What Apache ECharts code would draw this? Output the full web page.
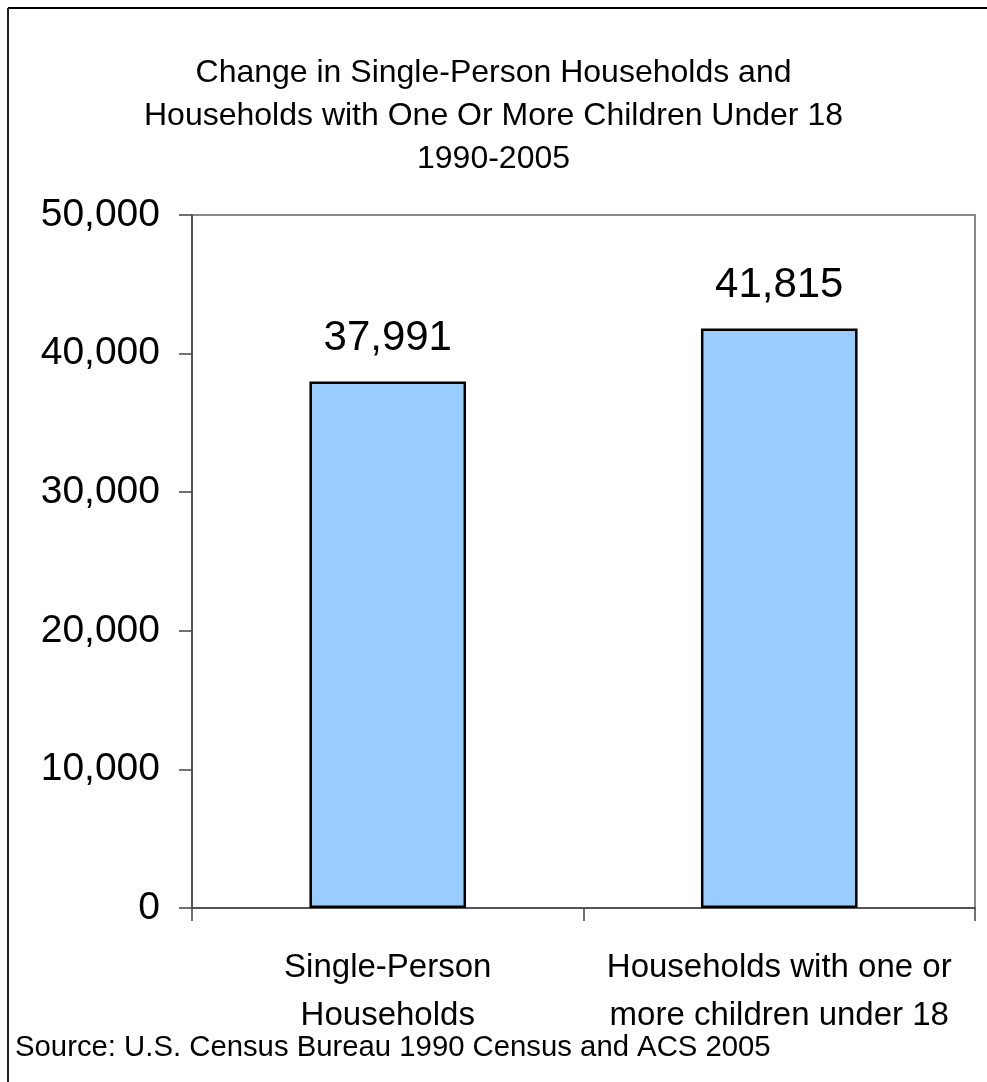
<!DOCTYPE html>
<html>
<head>
<meta charset="utf-8">
<script src="https://cdn.jsdelivr.net/npm/echarts@6/dist/echarts.min.js"></script>
<style>html,body{margin:0;padding:0;background:#fff}#c{width:987px;height:1082px}</style>
</head>
<body>
<div id="c"></div>
<script>
const categories = ['Single-Person\nHouseholds', 'Households with one or\nmore children under 18'];
const values = [37991, 41815];
const titleLines = 'Change in Single-Person Households and\nHouseholds with One Or More Children Under 18\n1990-2005';
const sourceText = 'Source: U.S. Census Bureau 1990 Census and ACS 2005';

const FONT = '"Liberation Sans", Arial, sans-serif';
const chart = echarts.init(document.getElementById('c'));
chart.setOption({
  animation: false,
  backgroundColor: '#fff',
  title: {
    text: titleLines,
    left: 'center',
    top: 47,
    textStyle: { fontFamily: FONT, fontSize: 32, fontWeight: 'normal', color: '#000', lineHeight: 43 }
  },
  grid: { left: 192, right: 12, top: 215, bottom: 174, show: true, borderColor: '#888', borderWidth: 2, backgroundColor: 'transparent' },
  xAxis: {
    type: 'category',
    data: categories,
    axisLine: { show: true, lineStyle: { color: '#444', width: 1.5 } },
    axisTick: { show: true, length: 13, inside: false, alignWithLabel: false, lineStyle: { color: '#444', width: 1.5 } },
    axisLabel: { interval: 0, hideOverlap: false, fontFamily: FONT, fontSize: 33, color: '#000', lineHeight: 48, margin: 36 }
  },
  yAxis: {
    type: 'value',
    min: 0, max: 50000, interval: 10000,
    axisLine: { show: true, lineStyle: { color: '#444', width: 1.5 } },
    axisTick: { show: true, length: 13, lineStyle: { color: '#444', width: 1.5 } },
    splitLine: { show: false },
    axisLabel: {
      fontFamily: FONT, fontSize: 39, color: '#000', margin: 32,
      formatter: v => v.toLocaleString('en-US')
    }
  },
  series: [{
    type: 'bar',
    data: values,
    barWidth: '40%',
    itemStyle: { color: '#99CCFF', borderColor: '#000', borderWidth: 2.5 },
    label: {
      show: true, position: 'top', distance: 22,
      fontFamily: FONT, fontSize: 42, color: '#000',
      formatter: p => p.value.toLocaleString('en-US')
    }
  }],
  graphic: [
    { type: 'line', shape: { x1: 8, y1: 8, x2: 987, y2: 8 }, style: { stroke: '#000', lineWidth: 2 } },
    { type: 'line', shape: { x1: 8, y1: 8, x2: 8, y2: 1082 }, style: { stroke: '#222', lineWidth: 2 } },
    { type: 'text', left: 15, top: 1033, style: { text: sourceText, font: '29.3px "Liberation Sans", Arial, sans-serif', fill: '#000' } }
  ]
});
</script>
</body>
</html>
